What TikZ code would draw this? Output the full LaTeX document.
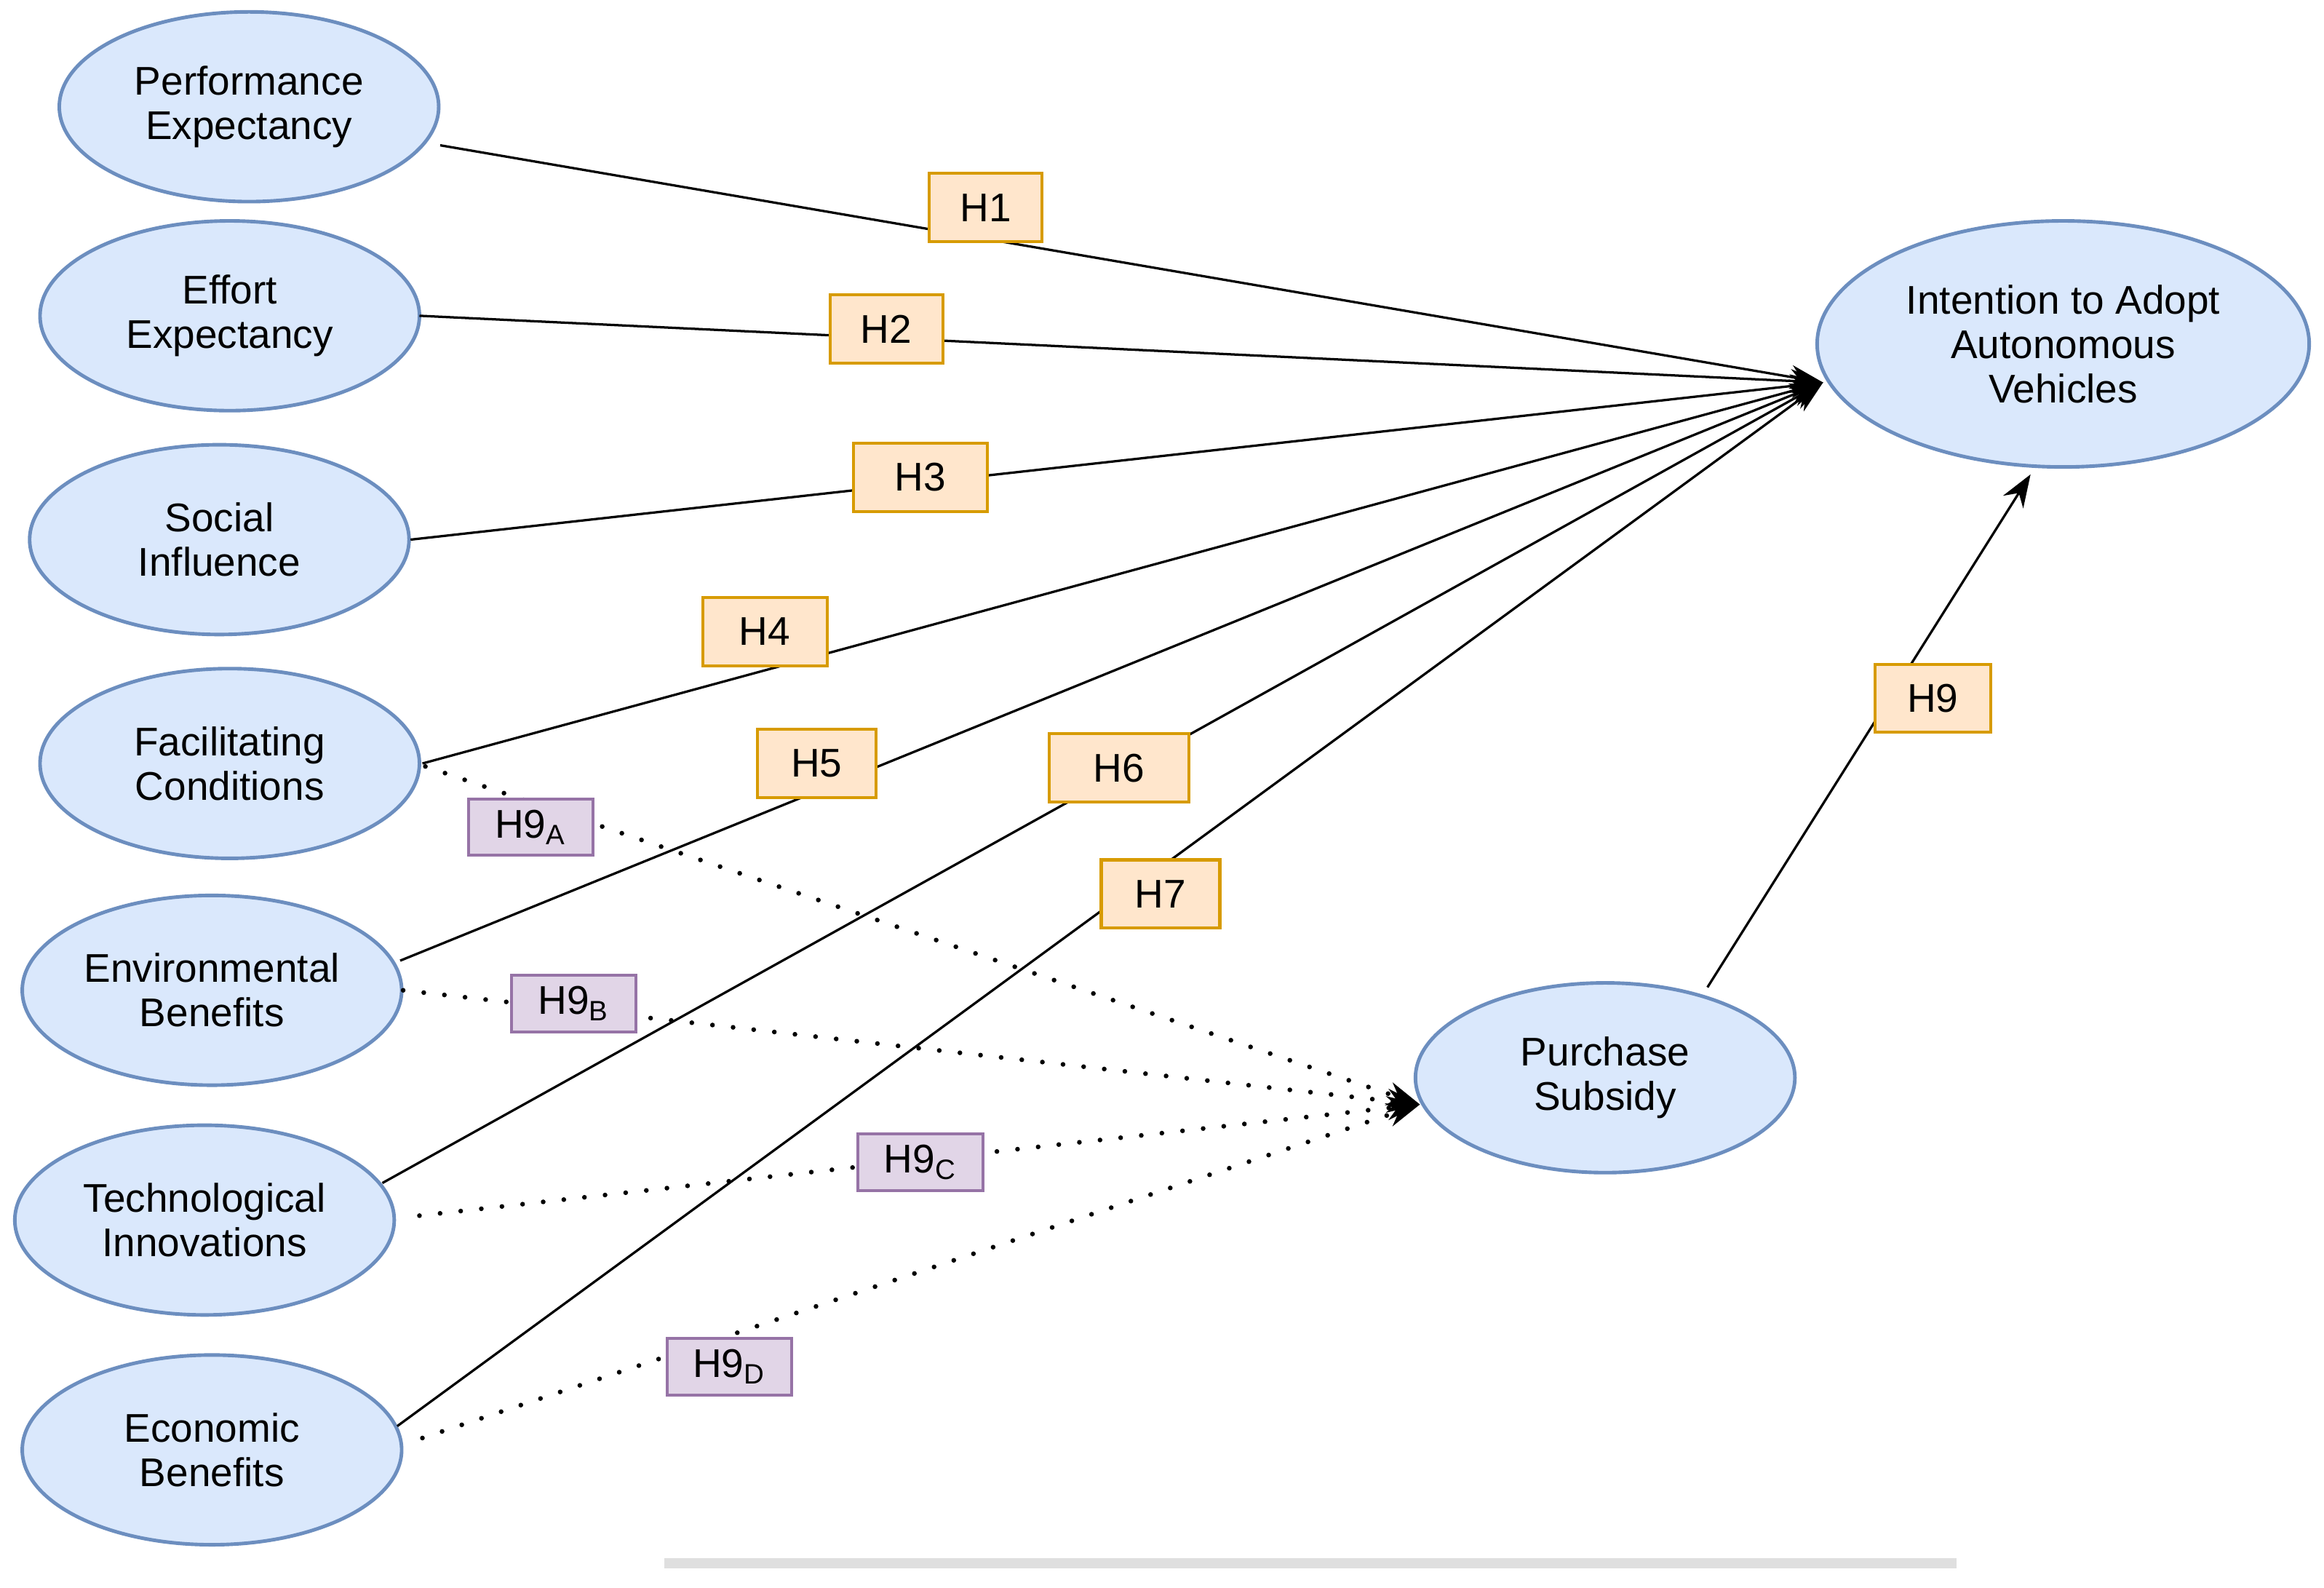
\documentclass[tikz,border=0pt]{standalone}
\usepackage{fontspec}
\setmainfont{Liberation Sans}
\usetikzlibrary{arrows.meta,shapes.geometric}
\definecolor{eb}{RGB}{108,142,191}
\begin{document}
\begin{tikzpicture}[x=0.5pt,y=-0.5pt,
  ell/.style={ellipse,draw=eb,fill={rgb,255:red,218;green,232;blue,252},line width=1.2pt,minimum width=128pt,minimum height=64pt,align=center,font=\fontsize{13.5}{15}\selectfont,inner sep=0pt},
  hy/.style={draw={rgb,255:red,215;green,155;blue,0},fill={rgb,255:red,255;green,230;blue,204},line width=1pt,minimum width=38pt,minimum height=23pt,inner sep=1pt,font=\fontsize{13.5}{15}\selectfont},
  hp/.style={draw={rgb,255:red,150;green,115;blue,166},fill={rgb,255:red,225;green,213;blue,231},line width=1pt,minimum width=42pt,minimum height=19pt,inner sep=1pt,font=\fontsize{13.5}{15}\selectfont},
  ln/.style={line width=0.8pt,-{Stealth[length=11pt,width=8pt]}},
  dt/.style={line width=1.6pt,line cap=round,dash pattern=on 0pt off 7pt,-{Stealth[length=11pt,width=8pt]}}]
\useasboundingbox (0,0) rectangle (1568,1071);
\fill[white] (0,0) rectangle (1568,1071);
\fill[gray!25] (448,1051) rectangle (1320,1058);
\node[ell] (pe) at (168,72) {Performance\\Expectancy};
\node[ell] (ee) at (155,213) {Effort\\Expectancy};
\node[ell] (si) at (148,364) {Social\\Influence};
\node[ell] (fc) at (155,515) {Facilitating\\Conditions};
\node[ell] (env) at (143,668) {Environmental\\Benefits};
\node[ell] (ti) at (138,823) {Technological\\Innovations};
\node[ell] (eco) at (143,978) {Economic\\Benefits};
\node[ell,minimum width=166pt,minimum height=83pt] (ia) at (1392,232) {Intention to Adopt\\Autonomous\\Vehicles};
\node[ell] (ps) at (1083,727) {Purchase\\Subsidy};
\coordinate (iaIn) at (1230,258);
\coordinate (psIn) at (958,745);
\coordinate (iaB) at (1370,320);
\coordinate (psT) at (1152,666);
\coordinate (peO) at (297,98);
\coordinate (eeO) at (283,213);
\coordinate (siO) at (277,364);
\coordinate (fcO) at (285,515);
\coordinate (envO) at (270,648);
\coordinate (tiO) at (258,798);
\coordinate (ecoO) at (268,962);
\coordinate (fcD) at (287,517);
\coordinate (envD) at (272,668);
\coordinate (tiD) at (283,820);
\coordinate (ecoD) at (285,970);
\draw[ln] (peO) -- (iaIn);
\draw[ln] (eeO) -- (iaIn);
\draw[ln] (siO) -- (iaIn);
\draw[ln] (fcO) -- (iaIn);
\draw[ln] (envO) -- (iaIn);
\draw[ln] (tiO) -- (iaIn);
\draw[ln] (ecoO) -- (iaIn);
\draw[ln] (psT) -- (iaB);
\draw[dt] (fcD) -- (psIn);
\draw[dt] (envD) -- (psIn);
\draw[dt] (tiD) -- (psIn);
\draw[dt] (ecoD) -- (psIn);
\node[hy] (h1) at (665,140) {H1};
\node[hy] (h2) at (598,222) {H2};
\node[hy,minimum width=45pt] (h3) at (621,322) {H3};
\node[hy,minimum width=42pt] (h4) at (516,426) {H4};
\node[hy,minimum width=40pt] (h5) at (551,515) {H5};
\node[hy,minimum width=47pt] (h6) at (755,518) {H6};
\node[hy,minimum width=40pt] (h7) at (783,603) {H7};
\node[hy,minimum width=39pt] (h9) at (1304,471) {H9};
\node[hp] (h9a) at (358,558) {H9\textsubscript{A}};
\node[hp] (h9b) at (387,677) {H9\textsubscript{B}};
\node[hp] (h9c) at (621,784) {H9\textsubscript{C}};
\node[hp] (h9d) at (492,922) {H9\textsubscript{D}};
\end{tikzpicture}
\end{document}
